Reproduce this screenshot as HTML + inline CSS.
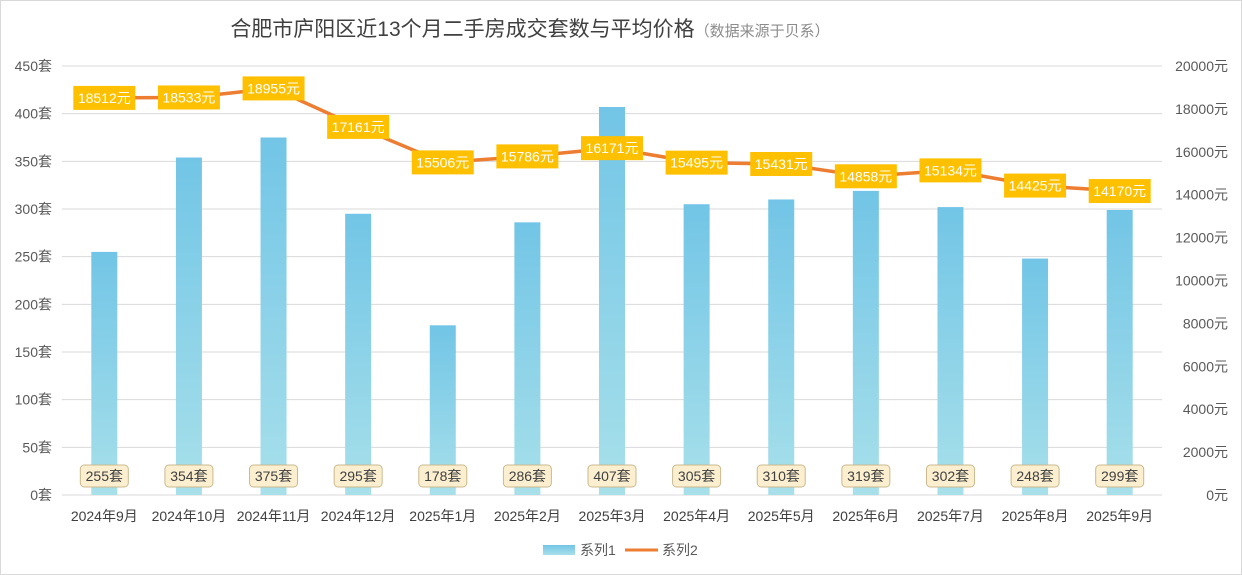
<!DOCTYPE html>
<html><head><meta charset="utf-8">
<style>
body{margin:0;background:#fff;}
svg{display:block;font-family:"Liberation Sans","Noto Sans CJK SC",sans-serif;}
</style></head>
<body>
<svg id="chart" width="1242" height="575" viewBox="0 0 1242 575" xmlns="http://www.w3.org/2000/svg">
<defs>
<linearGradient id="barGrad" x1="0" y1="0" x2="0" y2="1">
<stop offset="0" stop-color="#72c5e6"/><stop offset="1" stop-color="#a8e0ea"/>
</linearGradient>
</defs>
<rect x="0.5" y="0.5" width="1241" height="574" fill="#fff" stroke="#d9d9d9"/>
<text x="530" y="36" font-size="21" fill="#404040" text-anchor="middle">合肥市庐阳区近13个月二手房成交套数与平均价格<tspan font-size="15" fill="#8c8c8c">（数据来源于贝系）</tspan></text>
<g id="grid"></g><g id="bars"></g><g id="line"></g><g id="labels"></g><g id="axes"></g>
<g>
<rect x="543" y="545" width="32" height="10" fill="url(#barGrad)"/>
<text x="580" y="555" font-size="14" fill="#595959">系列1</text>
<line x1="625" y1="550" x2="658" y2="550" stroke="#ed7d31" stroke-width="3"/>
<text x="662" y="555" font-size="14" fill="#595959">系列2</text>
</g>
</svg>
<script>
const categories=["2024年9月","2024年10月","2024年11月","2024年12月","2025年1月","2025年2月","2025年3月","2025年4月","2025年5月","2025年6月","2025年7月","2025年8月","2025年9月"];
const counts=[255,354,375,295,178,286,407,305,310,319,302,248,299];
const prices=[18512,18533,18955,17161,15506,15786,16171,15495,15431,14858,15134,14425,14170];
const leftTicks=[0,50,100,150,200,250,300,350,400,450];
const rightTicks=[0,2000,4000,6000,8000,10000,12000,14000,16000,18000,20000];
const NS="http://www.w3.org/2000/svg";
const X0=62,X1=1162,Y0=495,Y1=66;
const bw=(X1-X0)/categories.length;
const xc=i=>X0+bw*(i+0.5);
const yL=v=>Y0-(v/450)*(Y0-Y1);
const yR=v=>Y0-(v/20000)*(Y0-Y1);
function mk(tag,attrs,parent,txt){const e=document.createElementNS(NS,tag);for(const k in attrs)e.setAttribute(k,attrs[k]);if(txt!==undefined)e.textContent=txt;document.getElementById(parent).appendChild(e);return e;}
leftTicks.forEach(t=>{
 const l=mk('line',{x1:X0,x2:X1,y1:yL(t),y2:yL(t),stroke:'#d9d9d9','stroke-width':1},'grid');
 
 
 const tx=mk('text',{x:52,y:yL(t)+5,'font-size':14,fill:'#595959','text-anchor':'end'},'axes',t+'套');
 
 
});
rightTicks.forEach(t=>{
 const tx=mk('text',{x:1228,y:yR(t)+5,'font-size':14,fill:'#595959','text-anchor':'end'},'axes',t+'元');
 
 
});
categories.forEach((c,i)=>{
 const tx=mk('text',{x:xc(i),y:521,'font-size':14,fill:'#404040','text-anchor':'middle'},'axes',c);
 
 
});
counts.forEach((v,i)=>{
 const r=mk('rect',{x:xc(i)-13,y:yL(v),width:26,height:Y0-yL(v),fill:'url(#barGrad)'},'bars');
 
 
 const b=mk('rect',{x:xc(i)-24,y:465,width:48,height:22,rx:4,fill:'#fcefcf',stroke:'#c9b98e','stroke-width':1},'labels');
 
 
 const t=mk('text',{x:xc(i),y:481,'font-size':14,fill:'#404040','text-anchor':'middle'},'labels',v+'套');
 
 
});
const pts=prices.map((p,i)=>xc(i)+','+yR(p)).join(' ');
const pl=mk('polyline',{points:pts,fill:'none',stroke:'#ed7d31','stroke-width':3.5,'stroke-linejoin':'round'},'line');


prices.forEach((p,i)=>{
 const b=mk('rect',{x:xc(i)-31,y:yR(p)-12,width:62,height:24,fill:'#ffc000'},'labels');
 
 
 const t=mk('text',{x:xc(i),y:yR(p)+5,'font-size':14,fill:'#fff','text-anchor':'middle'},'labels',p+'元');
 
 
});
</script>
</body></html>
